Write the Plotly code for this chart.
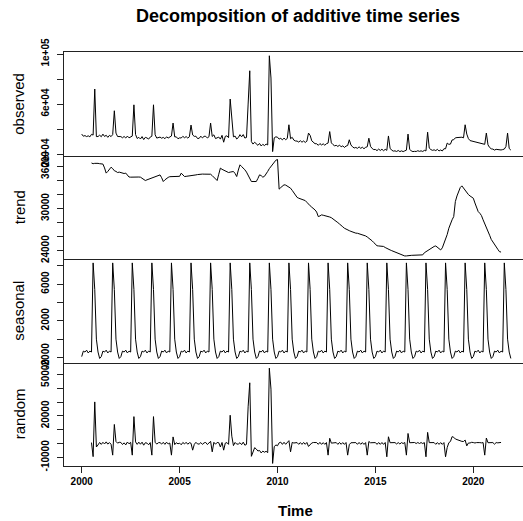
import plotly.graph_objects as go
from plotly.subplots import make_subplots

# ---------------- data (monthly, start 2000-01) ----------------
start_year = 2000
freq = 12

observed = [
    36000, 34300, 34800, 34000, 34600, 33800, 35800, 35200, 72000, 34000, 34050, 35100,  # 2000
    33900, 35950, 34100, 35060, 33400, 35000, 34000, 35600, 54640, 36800, 34040, 34000,  # 2001
    34000, 33050, 34100, 32860, 34400, 33000, 33980, 34400, 59380, 35650, 32480, 33400,  # 2002
    32080, 34000, 31600, 33400, 32900, 32000, 33600, 34300, 59400, 35450, 32800, 33300,  # 2003
    33600, 32700, 33360, 32300, 33800, 32850, 33550, 34470, 44800, 33780, 33770, 32270,  # 2004
    33000, 32850, 34200, 33070, 34000, 32820, 33850, 43200, 35300, 34150, 34300, 32450,  # 2005
    32600, 34310, 32920, 34210, 34210, 32900, 33910, 44800, 34100, 35400, 32400, 32700,  # 2006
    33600, 31970, 35000, 29500, 34200, 34600, 33140, 64000, 46000, 33790, 34400, 32070,  # 2007
    33200, 35540, 33800, 35600, 32830, 33300, 60000, 86600, 30000, 28000, 29460, 27760,  # 2008
    27000, 28500, 26500, 27800, 26800, 28000, 27300, 98600, 80800, 22000, 33000, 33800,  # 2009
    33500, 32000, 32600, 31400, 32800, 31500, 32500, 43440, 32300, 33400, 31200, 30500,  # 2010
    30400, 29600, 30700, 29500, 30500, 29300, 30300, 36800, 35000, 30600, 29400, 28300,  # 2011
    28300, 27000, 28400, 27300, 28200, 27100, 28300, 28800, 38000, 29000, 27600, 26600,  # 2012
    27000, 26100, 27200, 25800, 26600, 25300, 26400, 26860, 31440, 27300, 25800, 24900,  # 2013
    25300, 24600, 25800, 24600, 25500, 24300, 25400, 25850, 32700, 26200, 24500, 23600,  # 2014
    23700, 22800, 24000, 22900, 23900, 22700, 23800, 23000, 34500, 24700, 23100, 22400,  # 2015
    22600, 22100, 22900, 22000, 22600, 22000, 22600, 23150, 36000, 23900, 22500, 22000,  # 2016
    22200, 22100, 22700, 22200, 22600, 22100, 23000, 22560, 37500, 24800, 23600, 23000,  # 2017
    23400, 22800, 23800, 22500, 23300, 22500, 24300, 24230, 28800, 27800, 28000, 31300,  # 2018
    31500, 33000, 33200, 33400, 33000, 33500, 33000, 43440, 36000, 32400, 30800, 30400,  # 2019
    30300, 29900, 29300, 28800, 28500, 28200, 27700, 27800, 36830, 27400, 25300, 24200,  # 2020
    24000, 23200, 23800, 23500, 23000, 23300, 23600, 24000, 26000, 36800, 24500, 23200,  # 2021
]

# trend: 2000-07 .. 2021-06
trend = [
    36500, 36400, 36450, 36500, 36450, 36400,                                            # 2000 (Jul-Dec)
    36400, 36350, 35800, 35060, 35300, 35600, 35900, 35700, 35400, 35300, 35140, 35200,  # 2001
    35100, 35050, 35000, 35060, 34800, 34500, 34480, 34500, 34480, 34450, 34480, 34500,  # 2002
    34480, 34300, 34200, 34000, 34100, 34200, 34300, 34400, 34500, 34550, 34600, 34800,  # 2003
    34800, 34400, 33860, 34100, 34300, 34450, 34550, 34570, 34600, 34580, 34570, 34570,  # 2004
    34600, 35050, 34800, 34570, 34600, 34620, 34650, 34670, 34700, 34750, 34800, 34850,  # 2005
    34900, 34910, 34920, 34910, 34910, 34900, 34910, 34900, 34700, 34500, 34300, 34000,  # 2006
    34900, 35770, 35600, 35500, 35400, 35200, 35140, 35200, 35250, 35290, 35000, 34570,  # 2007
    35500, 36240, 36000, 35800, 35530, 35200, 34800, 34300, 33860, 33860, 33860, 33860,  # 2008
    34300, 34810, 34700, 34480, 34600, 34900, 35300, 35700, 36000, 36400, 36700, 36900,  # 2009
    37000, 32770, 33000, 33200, 33390, 33350, 33200, 33050, 32910, 32600, 32200, 31800,  # 2010
    31600, 31480, 31380, 31300, 31200, 31140, 30900, 30600, 30400, 30200, 30050, 29810,  # 2011
    29500, 28860, 28950, 29100, 29050, 29000, 28960, 28900, 28800, 28700, 28550, 28380,  # 2012
    28200, 28000, 27800, 27530, 27400, 27200, 27050, 26960, 26850, 26750, 26650, 26550,  # 2013
    26500, 26480, 26420, 26350, 26300, 26240, 26100, 25950, 25800, 25630, 25400, 25150,  # 2014
    24900, 24700, 24670, 24670, 24670, 24600, 24450, 24300, 24200, 24100, 24000, 23900,  # 2015
    23800, 23700, 23600, 23500, 23400, 23300, 23240, 23250, 23300, 23320, 23330, 23340,  # 2016
    23350, 23360, 23370, 23380, 23380, 23400, 23700, 23860, 24000, 24150, 24300, 24500,  # 2017
    24600, 24670, 24500, 24300, 24100, 24400, 25000, 25530, 26300, 27200, 27900, 28400,  # 2018
    28860, 31000, 31800, 32500, 33000, 33240, 32900, 32600, 32300, 32000, 31800, 31600,  # 2019
    31480, 30800, 30000, 29570, 29330, 29000, 28400, 27900, 27430, 26800, 26200, 25600,  # 2020
    25200, 24960, 24500, 24200, 23860, 23800,                                            # 2021 (Jan-Jun)
]

# seasonal figure (Jan..Dec), repeated every year
seasonal_figure = [-1900, -1300, -1400, -1200, -1500, -1300, -1400, 8300, 5400, 0, -1400, -2100]

# random: 2000-07 .. 2021-06
random_comp = [
    700, -9500, 30150, -2500, -1000, 800,                                               # 2000
    -600, 900, -300, 1200, -400, 700, -500, -8400, 13840, 1500, 300, 900,               # 2001
    800, -700, 500, -1000, 1100, -200, 900, -8400, 19500, 1200, -600, 1000,             # 2002
    -500, 1000, -1200, 600, 300, -900, 700, -8400, 19500, 900, -400, 600,               # 2003
    700, -400, 900, -600, 1000, -300, 400, -8400, 4800, -800, 600, -200,                # 2004
    300, -900, 800, -300, 900, -500, 600, 230, -4800, -600, 900, -300,                  # 2005
    -400, 700, -600, 500, 800, -700, 400, 1600, -6000, 900, -500, 800,                  # 2006
    600, -2500, 800, -4800, 300, 700, -600, 20500, 5350, -1500, 800, -400,              # 2007
    -400, 600, -800, 1000, -1200, -600, 26600, 44000, -9260, -5860, -3000, -4000,       # 2008
    -5400, -5010, -6800, -5480, -6300, -5600, -6600, 54600, 39400, -14400, -2300, -1000,  # 2009
    -1600, 530, 1000, -600, 910, -550, 700, 2090, -6010, 800, 400, 800,                 # 2010
    700, -580, 720, -600, 800, -540, 800, -2100, -800, 400, 750, 590,                   # 2011
    700, -560, 850, -600, 650, -600, 740, -8400, 3800, 300, 450, 320,                   # 2012
    700, -600, 800, -530, 700, -600, 750, -8400, -810, 550, 550, 450,                   # 2013
    700, -580, 780, -550, 700, -640, 700, -8400, 1500, 570, 500, 550,                   # 2014
    700, -600, 730, -570, 730, -600, 750, -9600, 4900, 600, 500, 600,                   # 2015
    700, -300, 700, -300, 700, 0, 760, -8400, 7300, 580, 570, 760,                      # 2016
    750, 40, 730, 20, 720, 0, 700, -9600, 8100, 650, 700, 600,                          # 2017
    700, -570, 700, -600, 700, -600, 700, -9600, -2900, 600, 1500, 5000,                # 2018
    4540, 3300, 2800, 2100, 1500, 1560, 1500, 2540, -1700, 400, 400, 900,               # 2019
    720, 400, 700, 430, 670, 500, 700, -8400, 4000, 600, 500, 700,                      # 2020
    700, -460, 700, 500, 640, 800,                                                      # 2021
]

n_years = len(observed) // freq
seasonal = seasonal_figure * n_years

panel_names = ["observed", "trend", "seasonal", "random"]
year_ticks = [2000, 2005, 2010, 2015, 2020]

obs_ticks = [20000, 40000, 60000, 80000, 100000]
obs_text = ["2e+04", "", "6e+04", "", "1e+05"]
trend_ticks = [24000, 26000, 28000, 30000, 32000, 34000, 36000]
trend_text = ["24000", "", "", "30000", "", "", "36000"]
seas_ticks = [-2000, 0, 2000, 4000, 6000, 8000]
seas_text = ["-2000", "", "2000", "", "6000", ""]
rand_ticks = [-10000, 0, 10000, 20000, 30000, 40000, 50000]
rand_text = ["-10000", "", "", "20000", "", "", "50000"]

# ---------------- figure ----------------
t_obs = [start_year + i / freq for i in range(len(observed))]
t_mid = [start_year + (i + 6) / freq for i in range(len(trend))]

W, H = 523, 521
ML, MR, MT, MB = 64, 0, 52, 55
PW = W - ML - MR
PH = H - MT - MB
px_per_year = 19.58
x0 = 2000 - (81.7 - ML) / px_per_year
x1 = 2000 + (W - MR - 81.7) / px_per_year

FONT = "Liberation Sans, Arial, sans-serif"
FRAME = "#222222"

fig = make_subplots(rows=4, cols=1, shared_xaxes=True, vertical_spacing=0)

series = [(t_obs, observed), (t_mid, trend), (t_obs, seasonal), (t_mid, random_comp)]
for r, (xs, ys) in enumerate(series, start=1):
    fig.add_trace(go.Scatter(x=xs, y=ys, mode="lines",
                             line=dict(color="black", width=1), showlegend=False,
                             hoverinfo="skip"), row=r, col=1)

ranges = [[18880, 101600], [22810, 37570], [-2541, 8724], [-16270, 58710]]
ticks = [(obs_ticks, obs_text), (trend_ticks, trend_text), (seas_ticks, seas_text), (rand_ticks, rand_text)]
tick_font = dict(family=FONT, size=10, color="black", weight="bold")

for r in range(1, 5):
    tv, tt = ticks[r - 1]
    fig.update_yaxes(row=r, col=1, range=ranges[r - 1], tickvals=tv, ticktext=tt,
                     tickangle=-90, ticks="outside", ticklen=6, tickwidth=1, tickcolor=FRAME,
                     ticklabelstandoff=4,
                     showline=True, linecolor=FRAME, linewidth=1, mirror=False,
                     showgrid=False, zeroline=False, tickfont=tick_font)
    fig.update_xaxes(row=r, col=1, range=[x0, x1], showline=True, linecolor=FRAME,
                     linewidth=1, mirror=(r == 1), showgrid=False, zeroline=False,
                     tickvals=year_ticks, ticks="outside" if r == 4 else "",
                     ticklen=6, tickwidth=1, tickcolor=FRAME,
                     showticklabels=(r == 4), tickfont=tick_font)

annotations = []
for i, name in enumerate(panel_names):
    yc = 1 - (i + 0.5) / 4
    annotations.append(dict(text=name, xref="paper", yref="paper",
                            x=(19 - ML) / PW, y=yc, textangle=-90, showarrow=False,
                            xanchor="center", yanchor="middle",
                            font=dict(family=FONT, size=15, color="black")))
annotations.append(dict(text="<b>Decomposition of additive time series</b>", xref="paper", yref="paper",
                        x=(298 - ML) / PW, y=(H - MB - 16) / PH, showarrow=False,
                        xanchor="center", yanchor="middle",
                        font=dict(family=FONT, size=18, color="black")))
annotations.append(dict(text="<b>Time</b>", xref="paper", yref="paper",
                        x=(295 - ML) / PW, y=(H - MB - 510) / PH, showarrow=False,
                        xanchor="center", yanchor="middle",
                        font=dict(family=FONT, size=15, color="black")))

fig.update_layout(width=W, height=H, margin=dict(l=ML, r=MR, t=MT, b=MB),
                  paper_bgcolor="white", plot_bgcolor="white", annotations=annotations,
                  showlegend=False)

fig.write_html("out.html")
